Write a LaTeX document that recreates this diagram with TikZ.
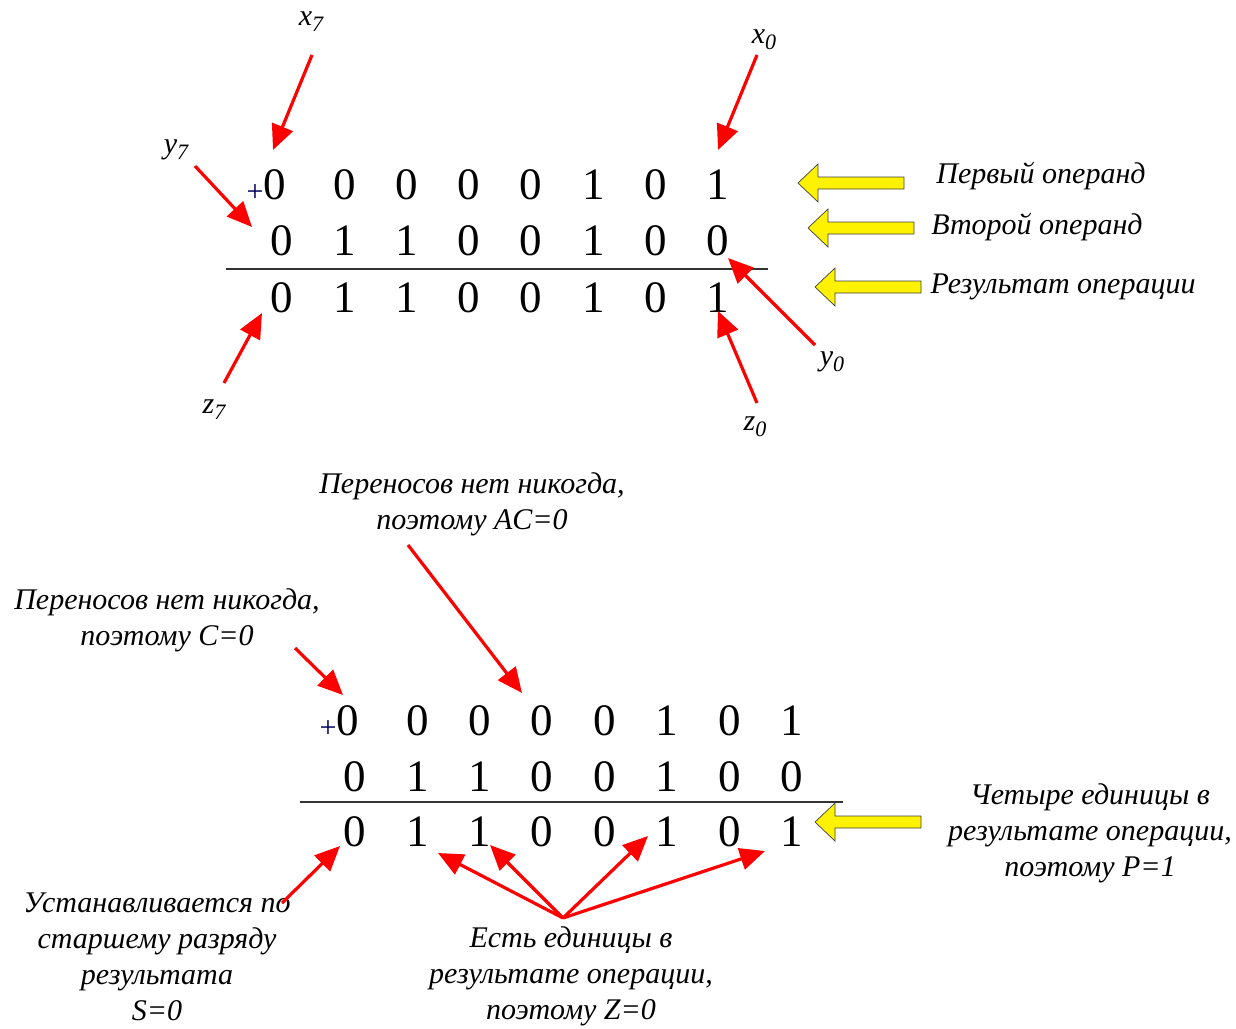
\documentclass[tikz,border=0pt]{standalone}
\usepackage{fontspec}
\setmainfont{Liberation Serif}
\usetikzlibrary{arrows.meta}

\tikzset{
  bit/.style={font=\fontsize{45}{45}\selectfont, inner sep=0pt},
  note/.style={font=\fontsize{30}{36}\selectfont\itshape, align=center, inner sep=0pt},
  tag/.style={font=\fontsize{30}{30}\selectfont, inner sep=0pt},
  plus/.style={font=\fontsize{30}{30}\selectfont, text=blue!35!black, inner sep=0pt},
  redarr/.style={draw=red, line width=3.2pt, -{Triangle[length=25pt,width=22pt]}},
  opbox/.style={draw=black!75, fill=yellow, line width=0.7pt, line join=miter},
  sumline/.style={draw=black!80, line width=1.6pt}
}

% subscripted bit name, x_7 and the like
\newcommand\idx[2]{\textit{#1}\raisebox{-0.45ex}{\fontsize{22}{22}\selectfont\itshape #2}}
% fat yellow arrow pointing left, tip at (#1,#2)
\newcommand\oparrow[2]{%
  \draw[opbox] (#1,#2) -- ++(20,-19) -- ++(0,13) -- ++(86,0) -- ++(0,12)
    -- ++(-86,0) -- ++(0,13) -- cycle;}

\begin{document}
\begin{tikzpicture}[x=1pt,y=-1pt]
\useasboundingbox (0,0) rectangle (1236,1028);

%% first example: operand and result bits
\foreach \b [count=\i] in {0,0,0,0,0,1,0,1}
  \node[bit] (t1-\i) at ({282+62.3*(\i-1)-7*(\i==1)},185) {\b};
\foreach \b [count=\i] in {0,1,1,0,0,1,0,0}
  \node[bit] (t2-\i) at ({282+62.3*(\i-1)},241) {\b};
\foreach \b [count=\i] in {0,1,1,0,0,1,0,1}
  \node[bit] (t3-\i) at ({282+62.3*(\i-1)},298) {\b};
\node[plus] (tplus) at (255,193) {+};
\draw[sumline] (226,269) -- (768,269);

\node[tag] (x7) at (311,22) {\idx{x}{7}};
\node[tag] (y7) at (176,150) {\idx{y}{7}};
\node[tag] (x0) at (764,40) {\idx{x}{0}};
\node[tag] (y0) at (832,362) {\idx{y}{0}};
\node[tag] (z7) at (214,410) {\idx{z}{7}};
\node[tag] (z0) at (755,427) {\idx{z}{0}};

\coordinate (x7a) at (312,55);  \coordinate (x7b) at (273,150);
\coordinate (y7a) at (195,166); \coordinate (y7b) at (252,227);
\coordinate (x0a) at (757,55);  \coordinate (x0b) at (718,150);
\coordinate (y0a) at (815,345); \coordinate (y0b) at (728,258);
\coordinate (z7a) at (224,383); \coordinate (z7b) at (262,313);
\coordinate (z0a) at (757,403); \coordinate (z0b) at (718,311);
\foreach \a in {x7,y7,x0,y0,z7,z0}
  \draw[redarr] (\a a) -- (\a b);

\oparrow{798}{183}
\oparrow{808}{228}
\oparrow{815}{287}
\node[note] (op1) at (1041,176) {Первый операнд};
\node[note] (op2) at (1037,227) {Второй операнд};
\node[note] (res) at (1063,287) {Результат операции};

%% second example: flags
\foreach \b [count=\i] in {0,0,0,0,0,1,0,1}
  \node[bit] (u1-\i) at ({355+62.4*(\i-1)-7*(\i==1)},721) {\b};
\foreach \b [count=\i] in {0,1,1,0,0,1,0,0}
  \node[bit] (u2-\i) at ({355+62.4*(\i-1)},777) {\b};
\foreach \b [count=\i] in {0,1,1,0,0,1,0,1}
  \node[bit] (u3-\i) at ({355+62.4*(\i-1)},832) {\b};
\node[plus] (uplus) at (328,729) {+};
\draw[sumline] (300,802) -- (843,802);

\node[note] (ac) at (472,504) {Переносов нет никогда,\\поэтому AC=0};
\node[note] (cf) at (167,620) {Переносов нет никогда,\\поэтому C=0};
\node[note] (pf) at (1090,833) {Четыре единицы в\\результате операции,\\поэтому P=1};
\node[note] (sf) at (157,957) {Устанавливается по\\старшему разряду\\результата\\S=0};
\node[note] (zf) at (571,976) {Есть единицы в\\результате операции,\\поэтому Z=0};

\oparrow{815}{822}

\coordinate (cfa) at (295,648); \coordinate (cfb) at (343,695);
\coordinate (aca) at (408,545); \coordinate (acb) at (522,693);
\coordinate (sfa) at (282,903); \coordinate (sfb) at (340,846);
\draw[redarr] (cfa) -- (cfb);
\draw[redarr] (aca) -- (acb);
\draw[redarr] (sfa) -- (sfb);

\coordinate (zfa) at (563,918);
\coordinate (z1) at (438,853); \coordinate (z2) at (490,845);
\coordinate (z3) at (648,836); \coordinate (z4) at (765,851);
\foreach \t in {z1,z2,z3,z4}
  \draw[redarr] (zfa) -- (\t);
\end{tikzpicture}
\end{document}
